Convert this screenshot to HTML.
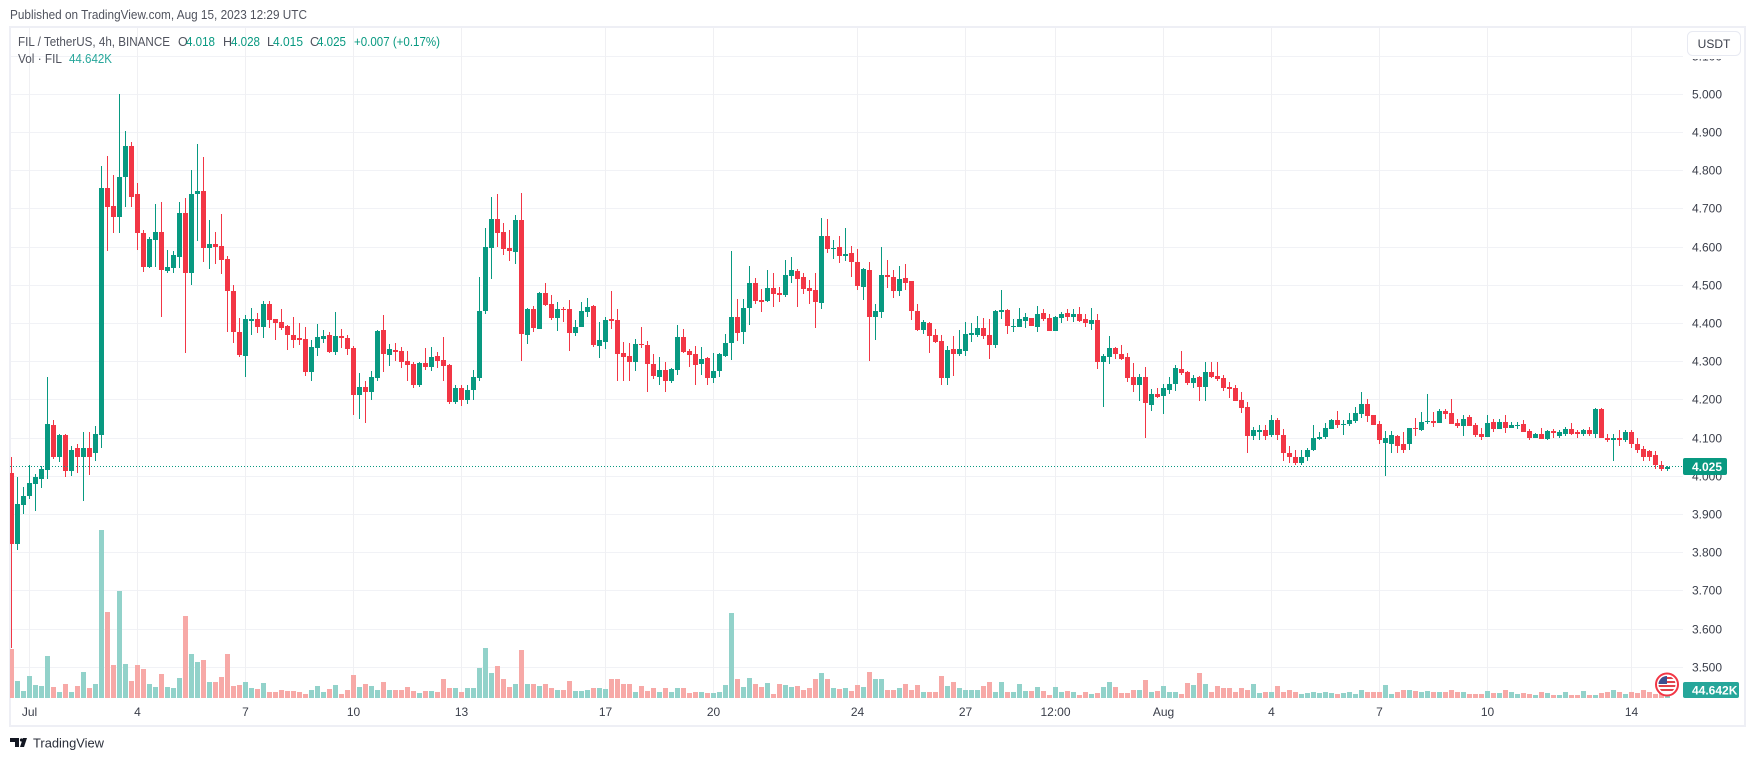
<!DOCTYPE html>
<html lang="en">
<head>
<meta charset="utf-8">
<title>FIL / TetherUS chart</title>
<style>
html,body{margin:0;padding:0;background:#fff;width:1754px;height:761px;overflow:hidden}
svg{display:block}
text{font-family:"Liberation Sans",sans-serif}
</style>
</head>
<body>
<svg id="chart" xmlns="http://www.w3.org/2000/svg" width="1754" height="761" viewBox="0 0 1754 761">
  <defs>
    <clipPath id="pane"><rect x="10" y="28" width="1673" height="670"/></clipPath>
    <clipPath id="flagclip"><circle cx="1667" cy="684.5" r="8.5"/></clipPath>
  </defs>
  <rect x="0" y="0" width="1754" height="761" fill="#ffffff"/>
  <text x="10" y="19" font-size="12.5" fill="#50535e" textLength="297" lengthAdjust="spacingAndGlyphs">Published on TradingView.com, Aug 15, 2023 12:29 UTC</text>
  <rect x="10" y="27" width="1735" height="699" fill="none" stroke="#eeeff5" stroke-width="2"/>
  <g id="grid"></g>
  <g id="vols" clip-path="url(#pane)"></g>
  <g id="candles" clip-path="url(#pane)"></g>
  <line id="lastline" x1="10" x2="1683" stroke="#089981" stroke-width="1" stroke-dasharray="1 2"/>
  <g id="pricelabels"></g>
  <g id="timelabels"></g>

  <text x="18" y="46" font-size="12.5" fill="#50535e" textLength="152" lengthAdjust="spacingAndGlyphs">FIL / TetherUS, 4h, BINANCE</text>
  <text x="178" y="46" font-size="12.5" fill="#50535e">O</text>
  <text x="186" y="46" font-size="12.5" fill="#089981" textLength="29" lengthAdjust="spacingAndGlyphs">4.018</text>
  <text x="223" y="46" font-size="12.5" fill="#50535e">H</text>
  <text x="231" y="46" font-size="12.5" fill="#089981" textLength="29" lengthAdjust="spacingAndGlyphs">4.028</text>
  <text x="267" y="46" font-size="12.5" fill="#50535e">L</text>
  <text x="273" y="46" font-size="12.5" fill="#089981" textLength="30" lengthAdjust="spacingAndGlyphs">4.015</text>
  <text x="310" y="46" font-size="12.5" fill="#50535e">C</text>
  <text x="317" y="46" font-size="12.5" fill="#089981" textLength="29" lengthAdjust="spacingAndGlyphs">4.025</text>
  <text x="354" y="46" font-size="12.5" fill="#089981" textLength="86" lengthAdjust="spacingAndGlyphs">+0.007 (+0.17%)</text>
  <text x="18" y="63" font-size="12.5" fill="#50535e" textLength="44" lengthAdjust="spacingAndGlyphs">Vol · FIL</text>
  <text x="69" y="63" font-size="12.5" fill="#26a69a" textLength="43" lengthAdjust="spacingAndGlyphs">44.642K</text>

  <rect x="1684" y="28" width="60" height="31" fill="#ffffff"/>
  <g>
    <rect x="1687.5" y="31.5" width="53" height="24" rx="5" fill="#ffffff" stroke="#e8eaf2"/>
    <text x="1714" y="48" font-size="12" fill="#3a3e4a" text-anchor="middle">USDT</text>
  </g>

  <rect id="lastbox" x="1683" width="44" height="17" rx="2" fill="#089981"/>
  <text id="lasttext" x="1692" font-size="12" font-weight="bold" fill="#ffffff">4.025</text>
  <rect x="1683" y="682" width="56" height="16" rx="2" fill="#26a69a"/>
  <text x="1692" y="694.5" font-size="12" font-weight="bold" fill="#ffffff">44.642K</text>

  <g>
    <circle cx="1667" cy="684.5" r="11" fill="#ffffff" stroke="#f23645" stroke-width="2"/>
    <g clip-path="url(#flagclip)">
      <rect x="1658" y="676" width="18" height="17" fill="#ffffff"/>
      <rect x="1658" y="677" width="18" height="2" fill="#e0424a"/>
      <rect x="1658" y="681" width="18" height="2" fill="#e0424a"/>
      <rect x="1658" y="685" width="18" height="2" fill="#e0424a"/>
      <rect x="1658" y="689" width="18" height="2" fill="#e0424a"/>
      <rect x="1658" y="676" width="9" height="8" fill="#3c4f8f"/>
    </g>
  </g>

  <g>
    <path d="M10 738h9v9h-4v-5h-5z M23 738h4l-3 9h-4z" fill="#131722"/>
    <circle cx="21.5" cy="740" r="1.6" fill="#131722"/>
    <text x="33" y="747.5" font-size="13" fill="#2a2e39" textLength="71" lengthAdjust="spacingAndGlyphs">TradingView</text>
  </g>
</svg>

<script>
var priceTicks = ["3.500","3.600","3.700","3.800","3.900","4.000","4.100","4.200","4.300","4.400","4.500","4.600","4.700","4.800","4.900","5.000","5.100"];
var timeLabels = ["Jul","4","7","10","13","17","20","24","27","12:00","Aug","4","7","10","14"];
var timeBarIndex = [3,21,39,57,75,99,117,141,159,174,192,210,228,246,270];
var lastPrice = 4.025;

var opens = [
4.009,3.824,3.926,3.949,3.98,3.994,4.017,4.135,4.05,4.108,
4.014,4.075,4.05,4.075,4.06,4.109,4.755,4.708,4.679,4.783,
4.865,4.739,4.638,4.548,4.619,4.64,4.538,4.546,4.575,4.689,
4.533,4.739,4.747,4.598,4.609,4.603,4.569,4.486,4.378,4.316,
4.407,4.412,4.391,4.452,4.412,4.404,4.394,4.37,4.362,4.359,
4.273,4.335,4.359,4.369,4.325,4.367,4.362,4.335,4.213,4.235,
4.22,4.257,4.383,4.317,4.33,4.328,4.301,4.293,4.24,4.296,
4.286,4.314,4.304,4.291,4.195,4.23,4.2,4.225,4.257,4.432,
4.597,4.673,4.639,4.597,4.587,4.671,4.369,4.438,4.385,4.479,
4.451,4.414,4.438,4.438,4.375,4.39,4.43,4.445,4.341,4.351,
4.411,4.409,4.322,4.314,4.299,4.346,4.343,4.293,4.259,4.278,
4.25,4.278,4.364,4.328,4.32,4.293,4.309,4.257,4.275,4.314,
4.349,4.417,4.377,4.44,4.506,4.461,4.458,4.493,4.479,4.474,
4.524,4.537,4.521,4.493,4.487,4.453,4.629,4.595,4.6,4.576,
4.584,4.561,4.495,4.54,4.417,4.43,4.527,4.521,4.485,4.519,
4.511,4.432,4.383,4.401,4.369,4.354,4.257,4.333,4.32,4.328,
4.369,4.369,4.388,4.369,4.343,4.43,4.435,4.39,4.39,4.406,
4.414,4.39,4.427,4.414,4.38,4.414,4.427,4.417,4.424,4.411,
4.398,4.409,4.299,4.312,4.335,4.32,4.312,4.259,4.238,4.259,
4.186,4.215,4.21,4.225,4.241,4.28,4.273,4.244,4.259,4.233,
4.273,4.262,4.257,4.233,4.231,4.199,4.181,4.105,4.115,4.121,
4.107,4.147,4.107,4.06,4.05,4.035,4.05,4.07,4.097,4.102,
4.123,4.147,4.134,4.136,4.144,4.162,4.189,4.16,4.136,4.088,
4.085,4.105,4.085,4.085,4.126,4.121,4.141,4.144,4.139,4.17,
4.165,4.139,4.131,4.155,4.134,4.11,4.102,4.141,4.123,4.141,
4.126,4.132,4.136,4.118,4.1,4.11,4.097,4.118,4.105,4.11,
4.125,4.115,4.11,4.12,4.11,4.175,4.1,4.095,4.1,4.095,
4.115,4.085,4.072,4.065,4.055,4.03,4.018];

var highs = [
4.05,3.998,3.972,4.03,4.006,4.027,4.26,4.148,4.111,4.111,
4.08,4.085,4.116,4.116,4.132,4.812,4.838,4.789,5.0,4.904,
4.875,4.768,4.645,4.627,4.713,4.719,4.593,4.59,4.718,4.728,
4.802,4.87,4.836,4.671,4.64,4.687,4.577,4.501,4.415,4.423,
4.441,4.428,4.459,4.459,4.412,4.438,4.397,4.418,4.402,4.39,
4.356,4.4,4.383,4.377,4.43,4.385,4.369,4.341,4.27,4.25,
4.275,4.383,4.422,4.346,4.348,4.338,4.328,4.299,4.299,4.335,
4.338,4.325,4.364,4.293,4.24,4.24,4.24,4.278,4.521,4.65,
4.731,4.739,4.663,4.644,4.684,4.741,4.44,4.445,4.482,4.506,
4.474,4.456,4.443,4.461,4.409,4.456,4.466,4.448,4.403,4.417,
4.485,4.438,4.351,4.348,4.359,4.39,4.354,4.32,4.312,4.299,
4.283,4.396,4.385,4.333,4.341,4.338,4.312,4.322,4.322,4.372,
4.589,4.464,4.464,4.55,4.519,4.49,4.54,4.532,4.495,4.566,
4.574,4.542,4.532,4.513,4.532,4.676,4.673,4.618,4.629,4.65,
4.603,4.595,4.545,4.561,4.451,4.6,4.566,4.54,4.55,4.555,
4.511,4.451,4.409,4.403,4.385,4.369,4.341,4.367,4.383,4.403,
4.401,4.419,4.414,4.411,4.435,4.487,4.438,4.411,4.44,4.427,
4.414,4.445,4.438,4.424,4.419,4.43,4.438,4.438,4.443,4.424,
4.44,4.424,4.32,4.367,4.338,4.343,4.322,4.296,4.267,4.286,
4.228,4.231,4.241,4.259,4.291,4.328,4.275,4.265,4.262,4.299,
4.299,4.299,4.265,4.246,4.238,4.22,4.194,4.128,4.134,4.134,
4.16,4.152,4.123,4.08,4.07,4.07,4.075,4.134,4.115,4.139,
4.149,4.17,4.147,4.165,4.181,4.22,4.202,4.16,4.144,4.118,
4.118,4.107,4.115,4.126,4.152,4.168,4.215,4.168,4.176,4.176,
4.202,4.149,4.16,4.16,4.139,4.126,4.16,4.149,4.149,4.16,
4.141,4.141,4.147,4.123,4.113,4.126,4.121,4.125,4.12,4.13,
4.14,4.12,4.125,4.13,4.178,4.178,4.11,4.11,4.12,4.12,
4.12,4.1,4.08,4.07,4.065,4.04,4.028];

var lows = [
3.55,3.808,3.9,3.94,3.908,3.97,3.994,4.045,4.038,3.997,
4.002,4.009,3.936,4.004,4.04,4.075,4.589,4.638,4.638,4.705,
4.705,4.593,4.535,4.546,4.548,4.418,4.533,4.533,4.546,4.323,
4.501,4.617,4.562,4.543,4.556,4.53,4.378,4.349,4.313,4.26,
4.37,4.376,4.362,4.389,4.357,4.383,4.331,4.336,4.344,4.262,
4.25,4.314,4.348,4.322,4.317,4.335,4.317,4.16,4.15,4.14,
4.2,4.25,4.273,4.288,4.301,4.283,4.25,4.23,4.235,4.278,
4.275,4.283,4.25,4.19,4.19,4.185,4.19,4.2,4.25,4.424,
4.516,4.6,4.579,4.563,4.555,4.301,4.346,4.377,4.385,4.445,
4.409,4.38,4.403,4.328,4.367,4.39,4.417,4.338,4.309,4.333,
4.385,4.25,4.25,4.25,4.275,4.335,4.22,4.254,4.24,4.22,
4.245,4.265,4.322,4.286,4.24,4.265,4.24,4.245,4.259,4.312,
4.304,4.354,4.346,4.396,4.451,4.43,4.456,4.443,4.456,4.469,
4.506,4.443,4.477,4.451,4.388,4.438,4.584,4.568,4.558,4.563,
4.521,4.487,4.461,4.301,4.356,4.414,4.493,4.466,4.472,4.487,
4.409,4.38,4.372,4.322,4.348,4.24,4.24,4.262,4.314,4.314,
4.351,4.364,4.359,4.307,4.335,4.411,4.372,4.377,4.39,4.388,
4.393,4.377,4.406,4.38,4.38,4.401,4.406,4.403,4.403,4.39,
4.383,4.28,4.181,4.293,4.307,4.304,4.246,4.22,4.197,4.1,
4.17,4.204,4.163,4.215,4.223,4.265,4.238,4.231,4.197,4.197,
4.257,4.249,4.223,4.204,4.197,4.165,4.06,4.094,4.094,4.094,
4.102,4.094,4.04,4.035,4.03,4.03,4.04,4.065,4.094,4.097,
4.123,4.126,4.107,4.131,4.139,4.152,4.141,4.134,4.085,4.0,
4.06,4.06,4.06,4.068,4.105,4.118,4.136,4.128,4.139,4.149,
4.136,4.126,4.105,4.131,4.102,4.094,4.102,4.115,4.123,4.113,
4.126,4.123,4.115,4.094,4.1,4.097,4.094,4.1,4.1,4.105,
4.108,4.1,4.105,4.105,4.1,4.1,4.09,4.04,4.08,4.09,
4.075,4.06,4.04,4.04,4.02,4.015,4.015];

var closes = [
3.824,3.927,3.948,3.983,3.998,4.019,4.137,4.05,4.108,4.014,
4.07,4.05,4.075,4.05,4.111,4.755,4.705,4.679,4.783,4.865,
4.731,4.636,4.548,4.622,4.64,4.541,4.548,4.58,4.689,4.533,
4.739,4.747,4.598,4.609,4.601,4.567,4.486,4.378,4.318,4.412,
4.412,4.391,4.452,4.41,4.402,4.389,4.37,4.357,4.357,4.273,
4.338,4.364,4.367,4.325,4.367,4.362,4.333,4.213,4.235,4.22,
4.259,4.38,4.32,4.333,4.325,4.299,4.291,4.24,4.296,4.286,
4.312,4.301,4.288,4.195,4.23,4.2,4.225,4.259,4.432,4.6,
4.673,4.637,4.595,4.589,4.671,4.372,4.438,4.388,4.479,4.448,
4.414,4.438,4.435,4.375,4.39,4.432,4.443,4.343,4.356,4.409,
4.406,4.32,4.312,4.299,4.346,4.343,4.293,4.262,4.278,4.25,
4.28,4.364,4.325,4.317,4.291,4.307,4.257,4.275,4.32,4.349,
4.417,4.375,4.44,4.506,4.458,4.456,4.493,4.477,4.474,4.527,
4.54,4.516,4.49,4.485,4.456,4.629,4.595,4.597,4.576,4.582,
4.561,4.498,4.542,4.417,4.432,4.527,4.521,4.485,4.516,4.506,
4.432,4.383,4.403,4.367,4.351,4.257,4.33,4.32,4.333,4.372,
4.375,4.388,4.367,4.343,4.432,4.435,4.393,4.393,4.411,4.417,
4.393,4.424,4.411,4.38,4.417,4.424,4.417,4.424,4.406,4.401,
4.409,4.299,4.314,4.335,4.32,4.307,4.257,4.238,4.259,4.191,
4.215,4.207,4.231,4.241,4.283,4.27,4.244,4.257,4.233,4.273,
4.259,4.254,4.231,4.228,4.197,4.178,4.105,4.121,4.121,4.105,
4.147,4.107,4.06,4.05,4.035,4.05,4.07,4.1,4.102,4.126,
4.147,4.134,4.136,4.147,4.165,4.189,4.157,4.134,4.094,4.1,
4.107,4.08,4.07,4.126,4.123,4.141,4.144,4.139,4.17,4.162,
4.136,4.131,4.149,4.131,4.107,4.102,4.139,4.123,4.141,4.126,
4.134,4.134,4.115,4.1,4.11,4.097,4.118,4.113,4.115,4.125,
4.112,4.11,4.12,4.11,4.175,4.1,4.095,4.1,4.095,4.115,
4.085,4.07,4.05,4.05,4.03,4.018,4.025];

var volumes = [
490,170,70,220,130,120,420,110,60,140,
60,120,260,100,140,1680,860,330,1070,340,
170,330,290,140,110,240,110,100,200,820,
440,360,380,160,160,210,440,120,130,160,
100,90,150,60,60,80,70,70,60,40,
80,120,60,90,130,40,80,230,110,140,
120,80,160,80,80,80,110,70,50,70,
70,60,190,100,100,60,100,100,300,500,
250,320,190,110,140,480,140,140,120,140,
100,80,80,170,70,70,80,100,100,90,
190,190,140,140,60,120,70,100,60,100,
60,100,100,50,60,60,50,50,60,130,
850,190,110,200,140,110,150,40,140,130,
110,120,80,100,190,250,190,100,90,100,
70,130,110,260,190,190,80,80,100,140,
80,130,60,60,60,220,120,160,100,80,
80,80,120,160,60,160,60,60,140,70,
70,110,70,30,110,60,70,60,30,60,
40,50,110,160,110,50,50,80,80,180,
60,70,120,60,60,40,150,130,250,140,
60,120,100,100,60,100,80,140,50,60,
60,120,60,80,60,40,50,60,50,60,
50,40,50,60,40,80,60,60,60,130,
40,60,80,80,70,60,70,60,60,60,
80,60,60,40,40,40,70,50,50,80,
60,40,50,40,30,60,50,30,30,60,
30,30,70,30,30,50,60,80,60,40,
60,50,80,60,40,60,44.642];

var SVGNS = "http://www.w3.org/2000/svg";
function xAt(i){ return 11.5 + 6 * i; }
function yAt(p){ return 476.3 - (p - 4) * 381.9; }
function volY(v){ return 698 - v / 10; }
function make(tag, parent, attrs){
  var el = document.createElementNS(SVGNS, tag);
  for (var k in attrs) el.setAttribute(k, attrs[k]);
  parent.appendChild(el);
  return el;
}

var gridG = document.getElementById("grid");
var priceG = document.getElementById("pricelabels");
var timeG = document.getElementById("timelabels");
var volG = document.getElementById("vols");
var candleG = document.getElementById("candles");

priceTicks.forEach(function(t){
  var y = Math.floor(yAt(parseFloat(t))) + 0.5;
  var line = make("line", gridG, {x1:11, x2:1683, y1:y, y2:y, stroke:"#f1f2f6", "stroke-width":1});
  
  
  var label = make("text", priceG, {x:1692, y:y + 4, "font-size":12, fill:"#3a3e4a"});
  
  
  label.textContent = t;
});

timeLabels.forEach(function(t, n){
  var x = xAt(timeBarIndex[n]);
  var line = make("line", gridG, {x1:x, x2:x, y1:28, y2:698, stroke:"#f0f0f3", "stroke-width":1});
  
  
  var label = make("text", timeG, {x:x, y:716, "font-size":12, fill:"#3a3e4a", "text-anchor":"middle"});
  
  
  label.textContent = t;
});

opens.forEach(function(o, i){
  var c = closes[i];
  var up = c >= o;
  var cx = xAt(i);
  var vTop = Math.round(volY(volumes[i]));
  var bar = make("rect", volG, {x:cx - 2.5, y:vTop, width:5, height:698 - vTop, fill: up ? "#92d2ca" : "#f7a9a7", "shape-rendering":"crispEdges"});
  
  

  var color = up ? "#089981" : "#f23645";
  var g = make("g", candleG, {"shape-rendering":"crispEdges"});
  
  
  var wickTop = Math.round(yAt(highs[i]));
  var wickBot = Math.round(yAt(lows[i]));
  var wick = make("rect", g, {x:cx - 0.5, y:wickTop, width:1, height:Math.max(1, wickBot - wickTop), fill:color});
  
  
  var bTop = Math.round(yAt(Math.max(o, c)));
  var bBot = Math.round(yAt(Math.min(o, c)));
  var body = make("rect", g, {x:cx - 2.5, y:bTop, width:5, height:Math.max(1, bBot - bTop), fill:color});
  
  
});

var lastY = Math.floor(yAt(lastPrice)) + 0.5;
var lastLine = document.getElementById("lastline");
lastLine.setAttribute("y1", lastY);
lastLine.setAttribute("y2", lastY);
document.getElementById("lastbox").setAttribute("y", lastY - 8.5);
document.getElementById("lasttext").setAttribute("y", lastY + 4.5);
</script>
</body>
</html>
